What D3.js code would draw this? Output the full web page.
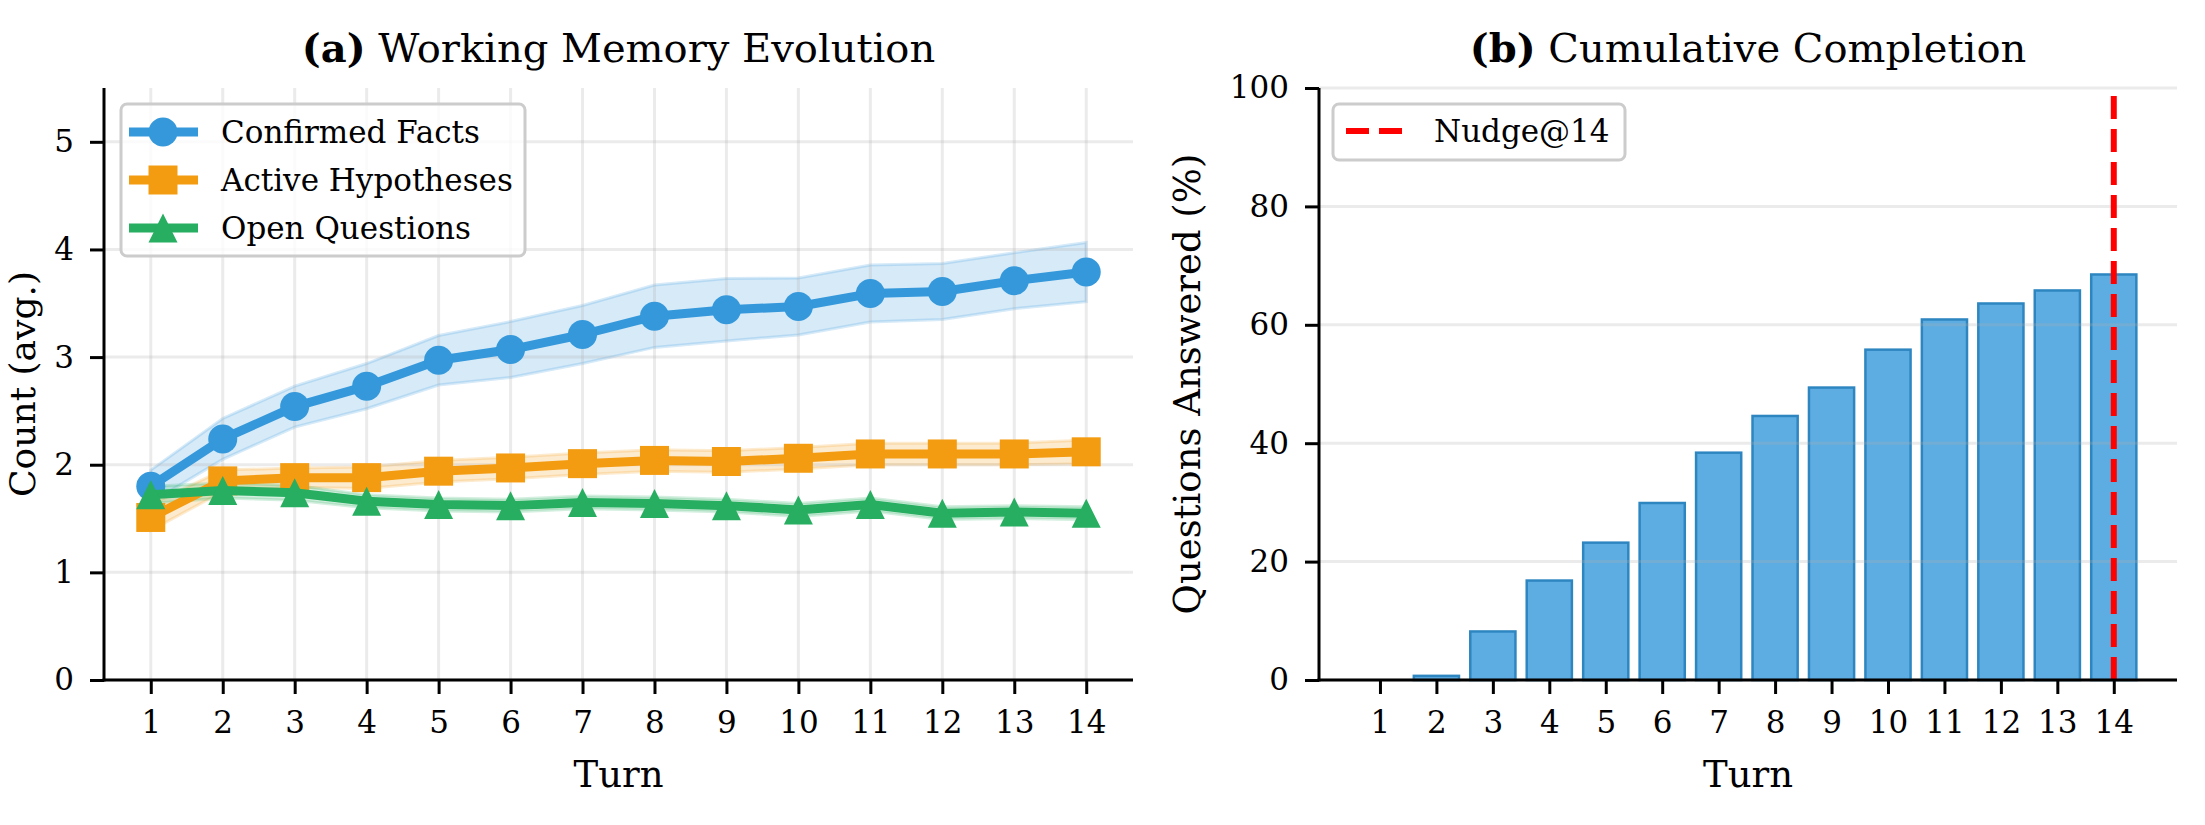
<!DOCTYPE html>
<html>
<head>
<meta charset="utf-8">
<script src="https://cdn.jsdelivr.net/npm/d3@7"></script>
<style>
  body { margin: 0; background: #fff; }
  text { font-family: "DejaVu Serif", serif; fill: #000; }
</style>
</head>
<body>
<div id="chart"></div>
<script>
// values
const turns = [1, 2, 3, 4, 5, 6, 7, 8, 9, 10, 11, 12, 13, 14]
const confirmedFacts = [1.80, 2.24, 2.54, 2.73, 2.97, 3.07, 3.21, 3.38, 3.44, 3.47, 3.59, 3.61, 3.71, 3.79]
const confirmedErr = [0.15, 0.19, 0.19, 0.21, 0.23, 0.26, 0.27, 0.29, 0.29, 0.265, 0.265, 0.26, 0.26, 0.275]
const activeHypotheses = [1.51, 1.85, 1.88, 1.88, 1.94, 1.97, 2.01, 2.04, 2.03, 2.06, 2.10, 2.10, 2.10, 2.12]
const activeErr = [0.12, 0.1, 0.09, 0.1, 0.1, 0.1, 0.1, 0.1, 0.1, 0.1, 0.1, 0.1, 0.1, 0.11]
const openQuestions = [1.72, 1.76, 1.74, 1.66, 1.63, 1.62, 1.65, 1.64, 1.62, 1.58, 1.63, 1.55, 1.56, 1.55]
const openErr = [0.08, 0.07, 0.07, 0.06, 0.06, 0.06, 0.06, 0.06, 0.06, 0.06, 0.06, 0.06, 0.06, 0.06]
const seriesNames = ["Confirmed Facts", "Active Hypotheses", "Open Questions"]
const completion = [0, 0.7, 8.2, 16.8, 23.2, 29.9, 38.4, 44.6, 49.4, 55.8, 60.9, 63.6, 65.8, 68.5]
const nudgeTurn = 14
const countTicks = [0, 1, 2, 3, 4, 5]
const pctTicks = [0, 20, 40, 60, 80, 100]

function drawCharts() {
  const width = 2205
  const height = 825

  const svg = d3.select("#chart").append("svg")
      .attr("width", width)
      .attr("height", height)

  const tickFont = "31px"
  const labelFont = "37px"
  const titleFont = "40px"

  const series = [
    { name: seriesNames[0], values: confirmedFacts, err: confirmedErr, color: "#3498db", marker: "circle" },
    { name: seriesNames[1], values: activeHypotheses, err: activeErr, color: "#f39c12", marker: "square" },
    { name: seriesNames[2], values: openQuestions, err: openErr, color: "#27ae60", marker: "triangle" },
  ]

  const ms = 29  // marker size in px
  function markerPath(kind) {
    const h = ms / 2
    if (kind === "circle") return d3.symbol(d3.symbolCircle, Math.PI * h * h)()
    if (kind === "square") return `M${-h},${-h}H${h}V${h}H${-h}Z`
    return `M0,${-h}L${h},${h}L${-h},${h}Z`
  }

  function styleAxis(g) {
    g.select(".domain").attr("stroke", "#000").attr("stroke-width", 3)
    g.selectAll(".tick line").attr("stroke", "#000").attr("stroke-width", 3)
    g.selectAll(".tick text").style("font-size", tickFont).attr("fill", "#000")
  }

  // ---------- (a) Working Memory Evolution ----------
  const a = { left: 104, right: 1133, top: 88, bottom: 680 }

  const xA = d3.scaleLinear().domain([0.35, 14.65]).range([a.left, a.right])
  const yA = d3.scaleLinear().domain([0, 5.5]).range([a.bottom, a.top])

  const panelA = svg.append("g")

  // bands
  series.forEach(s => {
    const area = d3.area()
      .x((d, i) => xA(turns[i]))
      .y0((d, i) => yA(d - s.err[i]))
      .y1((d, i) => yA(d + s.err[i]))
    panelA.append("path")
        .attr("d", area(s.values))
        .attr("fill", s.color)
        .attr("fill-opacity", 0.2)
        .attr("stroke", s.color)
        .attr("stroke-opacity", 0.2)
        .attr("stroke-width", 3)
  })

  // grid
  panelA.append("g").selectAll("line")
    .data(turns)
    .join("line")
      .attr("x1", d => xA(d)).attr("x2", d => xA(d))
      .attr("y1", a.top).attr("y2", a.bottom)
      .attr("stroke", "#b0b0b0").attr("stroke-opacity", 0.25).attr("stroke-width", 3)
  panelA.append("g").selectAll("line")
    .data(countTicks)
    .join("line")
      .attr("x1", a.left).attr("x2", a.right)
      .attr("y1", d => yA(d)).attr("y2", d => yA(d))
      .attr("stroke", "#b0b0b0").attr("stroke-opacity", 0.25).attr("stroke-width", 3)

  // lines + markers
  series.forEach(s => {
    const line = d3.line()
      .x((d, i) => xA(turns[i]))
      .y(d => yA(d))
    panelA.append("path")
        .attr("d", line(s.values))
        .attr("fill", "none")
        .attr("stroke", s.color)
        .attr("stroke-width", 9)
        .attr("stroke-linejoin", "round")
    panelA.append("g").selectAll("path")
      .data(s.values)
      .join("path")
        .attr("d", markerPath(s.marker))
        .attr("transform", (d, i) => `translate(${xA(turns[i])},${yA(d)})`)
        .attr("fill", s.color)
  })

  const xAxisA = panelA.append("g")
      .attr("transform", `translate(0,${a.bottom})`)
      .call(d3.axisBottom(xA).tickValues(turns).tickFormat(d3.format("d")).tickSize(14).tickSizeOuter(0).tickPadding(17))
  styleAxis(xAxisA)
  const yAxisA = panelA.append("g")
      .attr("transform", `translate(${a.left},0)`)
      .call(d3.axisLeft(yA).tickValues(countTicks).tickFormat(d3.format("d")).tickSize(14).tickSizeOuter(0).tickPadding(16))
  styleAxis(yAxisA)
  yAxisA.select(".domain").attr("d", `M0,${a.bottom + 1.5}V${a.top}`)
  xAxisA.select(".domain").attr("d", `M${a.left - 1.5},0H${a.right}`)

  // legend (a)
  const legA = panelA.append("g")
  legA.append("rect")
      .attr("x", 121).attr("y", 104).attr("width", 404).attr("height", 152)
      .attr("rx", 6)
      .attr("fill", "#fff").attr("fill-opacity", 0.8)
      .attr("stroke", "#cccccc").attr("stroke-width", 3)
  series.forEach((s, i) => {
    const cy = 132 + i * 48
    legA.append("line")
        .attr("x1", 129).attr("x2", 198).attr("y1", cy).attr("y2", cy)
        .attr("stroke", s.color).attr("stroke-width", 9)
    legA.append("path")
        .attr("d", markerPath(s.marker))
        .attr("transform", `translate(163,${cy})`)
        .attr("fill", s.color)
    legA.append("text")
        .attr("x", 221).attr("y", cy)
        .attr("dy", "0.35em")
        .style("font-size", tickFont)
        .text(s.name)
  })

  const titleA = panelA.append("text")
      .attr("x", (a.left + a.right) / 2)
      .attr("y", 62)
      .attr("text-anchor", "middle")
      .style("font-size", titleFont)
  titleA.append("tspan").attr("font-weight", "bold").text("(a)")
  titleA.append("tspan").text(" Working Memory Evolution")

  panelA.append("text")
      .attr("x", (a.left + a.right) / 2)
      .attr("y", 787)
      .attr("text-anchor", "middle")
      .style("font-size", labelFont)
      .text("Turn")

  panelA.append("text")
      .attr("transform", `translate(35,${(a.top + a.bottom) / 2}) rotate(-90)`)
      .attr("text-anchor", "middle")
      .style("font-size", "36px")
      .text("Count (avg.)")

  // ---------- (b) Cumulative Completion ----------
  const b = { left: 1319, right: 2177, top: 88, bottom: 680 }

  const xB = d3.scaleLinear().domain([-0.08, 15.12]).range([b.left, b.right])
  const yB = d3.scaleLinear().domain([0, 100]).range([b.bottom, b.top])
  const barW = xB(0.8) - xB(0)

  const panelB = svg.append("g")

  panelB.append("g").selectAll("rect")
    .data(completion)
    .join("rect")
      .attr("x", (d, i) => xB(turns[i]) - barW / 2)
      .attr("width", barW)
      .attr("y", d => yB(d))
      .attr("height", d => yB(0) - yB(d))
      .attr("fill", "#3498db").attr("fill-opacity", 0.8)
      .attr("stroke", "#2e86c1").attr("stroke-width", d => d > 0 ? 2.5 : 0)

  panelB.append("g").selectAll("line")
    .data(pctTicks)
    .join("line")
      .attr("x1", b.left).attr("x2", b.right)
      .attr("y1", d => yB(d)).attr("y2", d => yB(d))
      .attr("stroke", "#b0b0b0").attr("stroke-opacity", 0.25).attr("stroke-width", 3)

  panelB.append("line")
      .attr("x1", xB(nudgeTurn)).attr("x2", xB(nudgeTurn))
      .attr("y1", yB(0)).attr("y2", yB(100))
      .attr("stroke", "#ff0000").attr("stroke-width", 6)
      .attr("stroke-dasharray", "23,10")

  const xAxisB = panelB.append("g")
      .attr("transform", `translate(0,${b.bottom})`)
      .call(d3.axisBottom(xB).tickValues(turns).tickFormat(d3.format("d")).tickSize(14).tickSizeOuter(0).tickPadding(17))
  styleAxis(xAxisB)
  const yAxisB = panelB.append("g")
      .attr("transform", `translate(${b.left},0)`)
      .call(d3.axisLeft(yB).tickValues(pctTicks).tickFormat(d3.format("d")).tickSize(14).tickSizeOuter(0).tickPadding(16))
  styleAxis(yAxisB)
  yAxisB.select(".domain").attr("d", `M0,${b.bottom + 1.5}V${b.top}`)
  xAxisB.select(".domain").attr("d", `M${b.left - 1.5},0H${b.right}`)

  // legend (b)
  const legB = panelB.append("g")
  legB.append("rect")
      .attr("x", 1333).attr("y", 104).attr("width", 292).attr("height", 56)
      .attr("rx", 6)
      .attr("fill", "#fff").attr("fill-opacity", 0.8)
      .attr("stroke", "#cccccc").attr("stroke-width", 3)
  legB.append("line")
      .attr("x1", 1346).attr("x2", 1412).attr("y1", 131).attr("y2", 131)
      .attr("stroke", "#ff0000").attr("stroke-width", 6)
      .attr("stroke-dasharray", "23,10")
  legB.append("text")
      .attr("x", 1434).attr("y", 131)
      .attr("dy", "0.35em")
      .style("font-size", tickFont)
      .text(`Nudge@${nudgeTurn}`)

  const titleB = panelB.append("text")
      .attr("x", (b.left + b.right) / 2)
      .attr("y", 62)
      .attr("text-anchor", "middle")
      .style("font-size", titleFont)
  titleB.append("tspan").attr("font-weight", "bold").text("(b)")
  titleB.append("tspan").text(" Cumulative Completion")

  panelB.append("text")
      .attr("x", (b.left + b.right) / 2)
      .attr("y", 787)
      .attr("text-anchor", "middle")
      .style("font-size", labelFont)
      .text("Turn")

  panelB.append("text")
      .attr("transform", `translate(1200,${(b.top + b.bottom) / 2}) rotate(-90)`)
      .attr("text-anchor", "middle")
      .style("font-size", labelFont)
      .text("Questions Answered (%)")
}

drawCharts()
</script>
</body>
</html>
